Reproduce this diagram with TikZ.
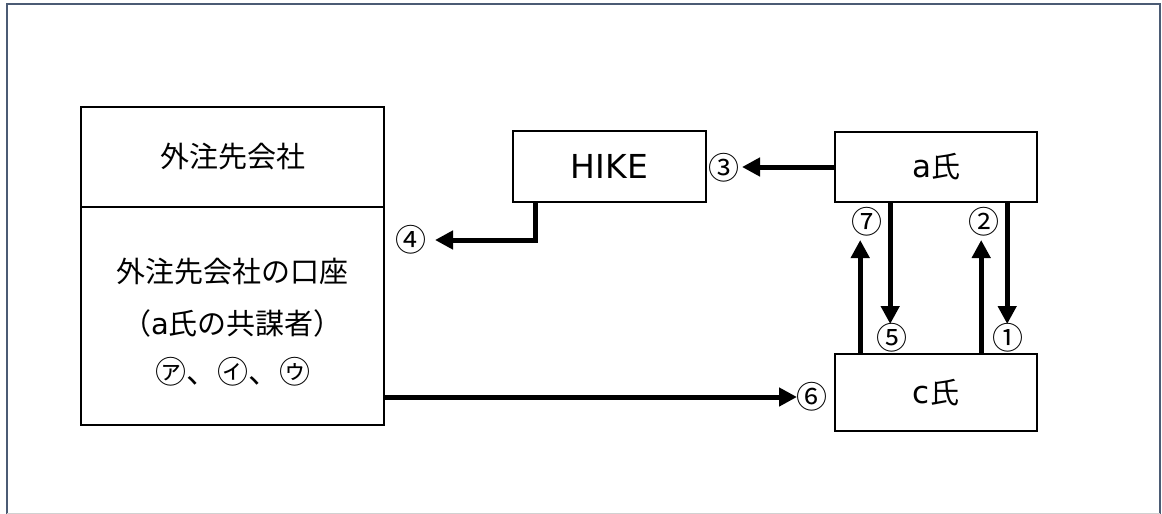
\documentclass[tikz,border=0pt]{standalone}
\usepackage{fontspec}
\setmainfont{Noto Sans CJK JP}
\newfontfamily\lat{DejaVu Sans}
\usetikzlibrary{arrows.meta,positioning,calc}
\definecolor{framegray}{HTML}{4B5B74}

\begin{document}
\begin{tikzpicture}[
    x=1pt, y=-1pt,
    box/.style={rectangle, draw, line width=1.6pt, align=center, font=\fontsize{29}{35}\selectfont, inner sep=0pt},
    txt/.style={inner sep=0pt, font=\fontsize{29}{35}\selectfont},
    num/.style={inner sep=0pt, font=\fontsize{31}{31}\selectfont},
    arrow/.style={-{Triangle[length=18pt,width=18pt]}, line width=5pt}
]
\useasboundingbox (0,0) rectangle (1162,514);
% frame
\draw[framegray, line width=2pt] (7,514) -- (7,4) -- (1160,4) -- (1160,514);
\draw[black!18, line width=1pt] (7,513) -- (1160,513);

% boxes
\node[box, minimum width=303pt, minimum height=100pt] (firm) at (232.5,157) {外注先会社};
\node[box, minimum width=303pt, minimum height=218pt] (acct) at (232.5,316) {};
\node[txt] (acctname) at ($(acct.center)+(0,-44)$) {外注先会社の口座};
\node[txt] (partner) at ($(acct.center)+(0,7)$) {（{\lat a}氏の共謀者）};
\node[txt, font=\fontsize{31}{31}\selectfont] (marks) at ($(acct.center)+(0,56)$) {㋐、㋑、㋒};
\node[box, minimum width=193pt, minimum height=71pt, font=\lat\fontsize{33}{33}\selectfont] (hike) at (609.5,166.5) {HIKE};
\node[box, minimum width=202pt, minimum height=70pt] (a) at (936,167) {{\lat\fontsize{31}{31}\selectfont a}氏};
\node[box, minimum width=202pt, minimum height=77pt] (c) at (936,392.5) {{\lat\fontsize{31}{31}\selectfont c}氏};

% numbers
\node[num] (n1) at (1008,338) {①};
\node[num] (n2) at (984,222) {②};
\node[num] (n3) at (724,168) {③};
\node[num] (n4) at (411,240) {④};
\node[num] (n5) at (892,338) {⑤};
\node[num] (n6) at (812,397) {⑥};
\node[num] (n7) at (867,222) {⑦};

% arrows
\draw[arrow] (a.west) -- ($(a.west -| n3.center)+(18,0)$);
\draw[arrow] ([xshift=23pt]hike.south west) |- ($(n4.center)+(24,0)$);
\draw[arrow] (acct.east |- n6) -- ($(n6.center)+(-15,0)$);
\draw[arrow] ([xshift=173pt]a.south west) -- ($(a.south west |- n1.center)+(173,-14)$);
\draw[arrow] ([xshift=56pt]a.south west) -- ($(a.south west |- n5.center)+(56,-14)$);
\draw[arrow] ([xshift=147pt]c.north west) -- ($(c.north west |- n2.center)+(147,18)$);
\draw[arrow] ([xshift=26pt]c.north west) -- ($(c.north west |- n7.center)+(26,18)$);
\end{tikzpicture}
\end{document}
